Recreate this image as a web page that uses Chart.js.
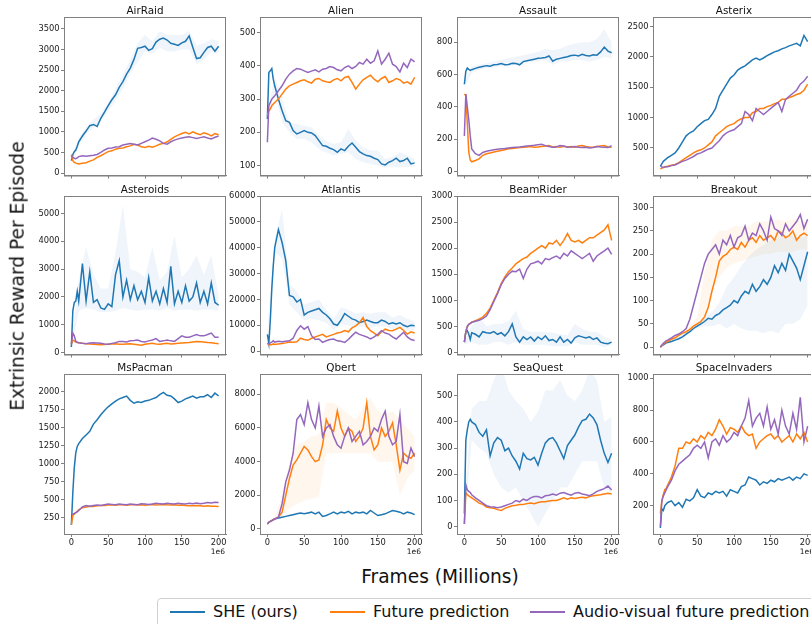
<!DOCTYPE html>
<html>
<head>
<meta charset="utf-8">
<script src="https://cdn.jsdelivr.net/npm/chart.js@4.4.0/dist/chart.umd.min.js"></script>
<style>
  body { margin: 0; width: 811px; height: 624px; overflow: hidden; background: #fff; position: relative; font-family: "DejaVu Sans", sans-serif; }
  canvas { position: absolute; }
  .txt { position: absolute; white-space: nowrap; color: #111; line-height: 1; }
  .ctr { transform: translate(-50%, -50%); }
  #legend { position: absolute; left: 157px; top: 598px; width: 680px; height: 40px; border: 1px solid #d0d0d0; border-radius: 4px; background: #fff; }
  .seg { position: absolute; height: 2px; width: 35px; }
</style>
</head>
<body>
<script>
// x positions (millions of frames)
const FRAMES = [0,2,4,6,8,10,15,20,25,30,35,40,45,50,55,60,65,70,75,80,85,90,95,100,105,110,115,120,125,130,135,140,145,150,155,160,165,170,175,180,185,190,195,200];
const BAND_X = [0,10,20,30,40,50,60,70,80,90,100,110,120,130,140,150,160,170,180,190,200];
const X_TICKS = [0,50,100,150,200];

const GAMES = ['AirRaid','Alien','Assault','Asterix','Asteroids','Atlantis','BeamRider','Breakout','MsPacman','Qbert','SeaQuest','SpaceInvaders'];
const SERIES_NAMES = ['SHE (ours)', 'Future prediction', 'Audio-visual future prediction'];
const COLORS = ['#1f77b4', '#ff7f0e', '#9467bd'];
const BAND_COLORS = ['rgba(31,119,180,0.07)', 'rgba(255,127,14,0.07)', 'rgba(148,103,189,0.07)'];

const Y_TICKS = [
  [0,500,1000,1500,2000,2500,3000,3500],
  [100,200,300,400,500],
  [0,200,400,600,800],
  [500,1000,1500,2000,2500],
  [0,1000,2000,3000,4000,5000],
  [0,10000,20000,30000,40000,50000,60000],
  [0,500,1000,1500,2000,2500,3000],
  [0,50,100,150,200,250,300],
  [250,500,750,1000,1250,1500,1750,2000],
  [0,2000,4000,6000,8000],
  [0,100,200,300,400,500],
  [200,400,600,800,1000]
];
const Y_MIN = [-60, 70, -25, 47, -71, -1300, -38, -16, 24, -297, -28, 22];
const Y_MAX = [3790, 547, 956, 2654, 5627, 60000, 3000, 325, 2246, 9206, 583, 1027];

// series values at FRAMES
const airRaidShe = [300,450,520,560,650,760, 900,1020,1150,1180,1130,1330,1480,1640,1780,1900, 2080,2220,2400,2550,2760,3030,3050,3080,2980,3020, 3180,3250,3280,3230,3150,3130,3100,3160,3200,3330, 3050,2780,2800,2930,3050,3080,2960,3080];
const airRaidFut = [450,300,260,240,230,220, 240,250,290,320,380,420,470,520,540,580, 600,610,640,660,700,680,640,620,650,630, 660,700,720,760,820,880,920,960,990,950, 1000,960,930,980,950,900,960,930];
const airRaidAv = [420,380,360,350,370,400, 420,410,420,430,450,500,560,600,610,630, 640,680,700,720,700,680,720,760,800,850, 820,780,720,700,760,800,830,850,870,880, 860,840,860,880,850,830,870,900];

const alienShe = [240,380,385,392,360,340, 300,265,235,230,205,195,200,205,200,198, 190,175,160,158,152,148,140,150,145,158, 168,155,142,135,130,128,122,118,105,102, 110,115,122,112,115,122,105,108];
const alienFut = [250,265,270,280,285,290, 300,315,330,340,345,350,355,358,352,348, 360,362,355,352,350,358,362,355,365,368, 350,330,345,358,365,372,360,352,362,368, 350,355,362,358,348,352,345,365];
const alienAv = [170,280,290,300,305,310, 325,340,360,375,385,392,390,385,380,384, 388,382,390,392,398,395,388,385,395,400, 392,398,410,405,420,408,415,445,405,420, 438,405,398,382,408,395,420,412];

const assaultShe = [540,620,640,632,626,630, 638,645,650,655,652,660,662,668,660,662, 670,668,660,680,685,690,695,700,702,705, 715,682,695,700,705,710,718,720,715,725, 718,715,722,720,740,770,745,735];
const assaultFut = [480,470,300,120,70,60, 68,78,100,110,115,120,125,130,135,140, 142,145,148,150,152,155,150,152,155,158, 160,152,155,150,156,152,155,150,158,160, 155,152,150,155,158,160,152,150];
const assaultAv = [220,480,400,320,220,140, 110,100,118,125,130,135,138,140,142,145, 148,150,152,155,158,160,162,165,168,160, 155,150,152,160,158,150,152,155,150,148, 150,145,148,155,152,150,148,160];

const asterixShe = [200,240,280,300,320,340, 380,420,500,600,700,750,780,850,900,950, 970,1050,1150,1350,1450,1550,1650,1700,1780,1820, 1850,1900,1950,1980,1950,1980,2020,2050,2080,2100, 2130,2150,2180,2200,2220,2180,2350,2250];
const asterixFut = [150,170,180,190,195,200, 215,230,260,300,340,380,420,450,470,500, 550,600,700,750,800,850,880,900,950,980, 1000,1000,1080,1100,1150,1150,1180,1200,1230,1250, 1300,1300,1330,1350,1380,1400,1450,1550];
const asterixAv = [200,190,180,185,190,190, 210,220,250,280,300,330,360,400,420,450, 480,500,560,620,700,750,780,800,850,900, 1100,1050,950,1150,1100,1050,1100,1150,1200,1250, 1100,1300,1350,1400,1450,1550,1600,1680];

const asteroidsShe = [200,1500,1800,1850,2200,1850, 3200,1850,2900,1800,1900,1600,1550,1750,1650,2800, 3300,2000,2600,1900,2400,1900,2200,1800,2700,1850, 2200,1750,2300,1800,3100,1750,2200,1800,2400,1850, 2000,2500,1800,2200,1750,2500,1800,1700];
const asteroidsFut = [300,450,420,380,360,350, 330,320,310,300,290,280,290,300,310,320, 300,300,310,320,300,280,260,300,320,330, 310,300,320,330,310,320,330,340,350,360, 380,400,390,380,360,350,330,320];
const asteroidsAv = [300,700,600,400,370,350, 330,320,340,350,340,330,310,300,330,350, 400,400,380,420,430,450,400,380,420,450, 500,400,420,450,420,400,500,600,550,550, 600,650,600,600,650,700,550,550];

const atlantisShe = [6500,3000,12000,24000,33000,40000, 47000,42000,35000,21500,21000,19000,20000,14000,15000,15500, 16000,16500,15000,14000,12500,10500,10000,12000,14500,13500, 12500,12000,11000,11500,12000,11500,11000,11000,12000,11500, 10500,11000,10500,11000,10000,9500,10000,9800];
const atlantisFut = [3000,2500,2500,2500,2800,2600, 2800,3000,3200,3500,3400,3600,5000,4500,4200,5000, 5500,6000,6500,5500,6000,6500,7000,7300,8000,7500, 9000,9800,11000,13000,9500,7900,7000,6000,7500,8500, 8000,7900,8500,9200,8000,6600,7500,7000];
const atlantisAv = [3000,2800,3200,3500,4000,3500, 3800,3600,3800,4000,5000,8000,9800,8500,9500,6000, 4500,4700,3400,4000,4500,4700,4000,3800,3400,4500, 6000,7300,6500,6000,5500,4700,5500,6500,7900,7000, 6600,5500,4700,6000,7300,5500,4500,4100];

const beamRiderShe = [200,400,420,350,250,380, 350,300,400,380,370,400,350,380,320,400, 550,300,200,300,250,300,220,300,250,320, 230,250,200,300,200,250,180,280,320,300, 280,300,250,280,200,180,170,200];
const beamRiderFut = [200,400,500,540,560,580, 610,640,680,750,850,1000,1150,1320,1450,1550, 1620,1700,1750,1800,1830,1900,1950,2000,2050,2000, 2100,2080,2150,2050,2150,2280,2150,2120,2150,2100, 2150,2200,2200,2250,2300,2350,2450,2150];
const beamRiderAv = [200,400,500,540,560,580, 600,620,650,700,820,980,1130,1300,1420,1500, 1560,1550,1600,1420,1600,1700,1720,1750,1700,1800, 1780,1820,1850,1800,1900,1850,1950,1900,1850,1800, 1850,1900,1750,1850,1900,1950,2000,1880];

const breakoutShe = [0,3,5,7,9,10, 12,15,18,22,28,33,40,45,50,55, 62,60,68,72,80,85,90,100,95,110, 120,115,135,120,130,145,135,150,175,160, 180,165,200,185,170,145,175,205];
const breakoutFut = [0,3,6,9,11,12, 17,20,25,30,33,38,45,50,55,65, 85,120,150,185,195,200,210,215,210,225, 215,230,235,225,240,230,235,240,230,250, 245,235,240,250,230,240,245,240];
const breakoutAv = [0,4,8,11,14,15, 20,25,28,33,40,60,90,120,150,180, 200,210,220,200,230,220,240,215,235,240, 260,230,245,240,265,250,230,280,255,250, 240,265,250,260,270,285,255,275];

const msPacmanShe = [150,600,950,1150,1240,1280, 1350,1400,1450,1550,1610,1680,1740,1790,1830,1870, 1900,1920,1940,1880,1840,1860,1850,1870,1880,1900, 1920,1960,1990,1950,1940,1900,1850,1870,1900,1920, 1940,1910,1930,1930,1960,1920,1980,1940];
const msPacmanFut = [150,280,300,320,340,360, 390,400,410,405,415,420,420,425,430,425, 430,430,425,430,432,428,430,425,430,432, 428,430,435,430,428,430,425,428,420,418, 415,420,415,410,415,410,408,405];
const msPacmanAv = [300,300,310,320,330,350, 400,420,410,420,425,420,430,440,435,430, 440,435,430,440,435,430,445,440,435,440, 450,445,440,450,445,440,450,445,440,450, 445,455,445,450,460,455,465,460];

const qbertShe = [300,400,450,500,550,600, 650,700,750,800,850,900,950,900,950,1000, 900,1000,750,800,900,1000,900,1000,950,1050, 900,1000,950,1000,900,1100,950,800,850,900, 1000,1100,1050,1000,900,1000,950,850];
const qbertFut = [300,400,450,500,550,600, 700,1000,2000,3000,3800,4100,4500,4900,4700,4300, 4000,4100,5000,6500,6000,5800,7000,6000,5500,6000, 5800,5200,5500,6000,7500,5500,4700,5000,6000,5500, 5800,6300,5000,3500,4500,4300,4200,4500];
const qbertAv = [300,400,450,500,550,600, 700,1500,2800,3500,4500,6500,6800,6200,7500,6500, 6000,7300,5500,6000,6200,5500,5000,4800,5500,6000, 5200,5500,5800,5000,5200,5500,6000,5800,6500,7000, 5500,5000,5200,6800,4000,3900,4800,4300];

const seaQuestShe = [50,330,370,400,410,400, 390,360,345,370,270,320,340,330,290,300, 270,250,220,280,260,255,265,235,280,320, 335,340,320,290,260,310,330,350,380,405, 410,430,415,390,330,280,245,280];
const seaQuestFut = [10,130,122,118,114,110, 100,90,85,75,72,70,65,62,70,75, 80,82,85,85,88,90,88,92,95,95, 98,100,100,105,110,105,110,108,110,112, 110,115,118,120,122,125,128,125];
const seaQuestAv = [10,160,140,135,130,122, 110,100,90,80,76,75,72,75,80,85, 90,100,95,105,100,110,115,115,110,118, 120,125,120,128,130,125,120,128,130,125, 122,118,125,135,140,145,155,140];

const spaceInvadersShe = [60,180,170,200,210,220, 230,200,220,190,240,230,250,300,260,250, 280,270,290,280,290,260,300,290,280,320, 330,380,370,360,330,350,340,360,350,370, 360,370,380,360,380,370,400,390];
const spaceInvadersFut = [150,230,270,300,310,330, 380,450,560,560,600,590,620,600,640,620, 660,640,680,740,700,650,690,680,660,700, 660,640,650,560,600,620,640,650,620,640, 600,620,640,600,650,620,660,600];
const spaceInvadersAv = [70,230,260,280,300,320, 360,420,460,480,500,520,560,580,560,600, 500,600,620,580,640,600,620,660,640,700, 750,860,700,750,780,700,820,680,740,650, 800,700,650,780,680,880,600,700];

// shaded spread (low / high) at BAND_X
const airRaidSheLo = [250,650,950,1100,1250,1500,1750,2050,2400,2700,2950,2900,3050,2950,2950,3000,3000,2650,2750,2950,2900];
const airRaidSheHi = [400,850,1100,1300,1450,1700,2050,2400,2750,3150,3350,3200,3450,3350,3350,3350,3450,3100,3150,3250,3200];
const alienSheLo = [230,320,230,200,180,180,170,150,140,130,135,140,120,110,105,100,95,95,95,95,98];
const alienSheHi = [260,370,300,230,225,220,215,190,175,165,170,210,175,155,145,145,120,125,140,130,120];
const assaultSheLo = [520,610,630,640,645,650,650,660,670,680,680,690,660,680,680,690,690,680,690,710,700];
const assaultSheHi = [560,650,660,670,680,690,700,710,720,730,740,760,750,760,780,790,800,800,820,880,800];
const asteroidsSheLo = [100,1500,1600,1550,1450,1450,1500,1600,1550,1500,1550,1550,1500,1600,1500,1550,1550,1500,1550,1550,1500];
const asteroidsSheHi = [300,2600,3800,2800,2300,2300,3600,5300,3000,2900,2700,3800,2600,2900,4200,2700,3000,3500,2800,3500,2000];
const atlantisSheLo = [5000,38000,36000,18000,15000,12000,12500,12000,11000,8000,10500,10000,9000,9500,9000,9500,9500,8500,8500,8000,8000];
const atlantisSheHi = [8000,43000,55000,26000,23000,18000,19000,20000,16000,12500,17000,16000,14500,15000,14500,15000,15000,13000,14000,12500,11500];
const beamRiderSheLo = [150,200,150,150,200,200,150,200,150,150,150,150,120,120,120,200,150,150,150,100,150];
const beamRiderSheHi = [250,500,700,500,550,550,600,800,450,400,400,400,380,350,330,550,450,400,400,300,250];
const breakoutSheLo = [0,8,12,18,28,40,45,45,50,40,50,40,35,35,30,35,30,50,50,60,90];
const breakoutSheHi = [0,12,18,26,38,50,65,75,95,130,150,175,195,210,220,230,235,240,240,235,240];
const breakoutFutLo = [0,10,18,26,34,45,55,120,150,170,180,185,190,195,200,200,205,205,205,210,210];
const breakoutFutHi = [0,14,22,32,44,65,160,230,250,250,260,260,260,270,270,270,275,270,275,270,270];
const qbertFutLo = [300,500,700,1200,1500,1700,1800,1900,4500,4500,4500,4500,4500,4500,4500,4000,4000,4000,2000,3000,3500];
const qbertFutHi = [300,700,2000,4000,5000,5200,5500,5600,7500,7500,7200,6800,6500,7200,7800,7000,6800,7000,6500,6000,5500];
const seaQuestSheLo = [0,330,300,280,200,150,130,150,100,50,0,50,100,150,150,200,250,250,250,150,130];
const seaQuestSheHi = [100,450,480,480,560,620,520,480,450,400,440,520,520,560,500,480,520,600,560,400,420];

const SHE = [airRaidShe, alienShe, assaultShe, asterixShe, asteroidsShe, atlantisShe, beamRiderShe, breakoutShe, msPacmanShe, qbertShe, seaQuestShe, spaceInvadersShe];
const FUT = [airRaidFut, alienFut, assaultFut, asterixFut, asteroidsFut, atlantisFut, beamRiderFut, breakoutFut, msPacmanFut, qbertFut, seaQuestFut, spaceInvadersFut];
const AV = [airRaidAv, alienAv, assaultAv, asterixAv, asteroidsAv, atlantisAv, beamRiderAv, breakoutAv, msPacmanAv, qbertAv, seaQuestAv, spaceInvadersAv];
// panel index -> [series index, low, high]
const BANDS = {
  0: [[0, airRaidSheLo, airRaidSheHi]],
  1: [[0, alienSheLo, alienSheHi]],
  2: [[0, assaultSheLo, assaultSheHi]],
  4: [[0, asteroidsSheLo, asteroidsSheHi]],
  5: [[0, atlantisSheLo, atlantisSheHi]],
  6: [[0, beamRiderSheLo, beamRiderSheHi]],
  7: [[0, breakoutSheLo, breakoutSheHi], [1, breakoutFutLo, breakoutFutHi]],
  9: [[1, qbertFutLo, qbertFutHi]],
  10: [[0, seaQuestSheLo, seaQuestSheHi]]
};

// layout
const COL_X = [64, 260, 457, 653];
const ROW_Y = [17, 196, 374];
const BOX_W = 162, BOX_H = 160;
const YW = 50, PT = 8, PR = 12;
const SPINE = '#808080';
const TICK_FONT = { family: 'DejaVu Sans', size: 8.3 };

function addText(str, x, y, size, extra) {
  const d = document.createElement('div');
  d.className = 'txt ' + (extra || 'ctr');
  d.textContent = str;
  d.style.left = x + 'px';
  d.style.top = y + 'px';
  d.style.fontSize = size + 'px';
  document.body.appendChild(d);
  return d;
}

const framePlugin = {
  id: 'frame',
  afterDraw(chart) {
    const { ctx, chartArea: a } = chart;
    ctx.save();
    ctx.strokeStyle = SPINE;
    ctx.lineWidth = 1;
    ctx.strokeRect(a.left + 0.5, a.top + 0.5, a.right - a.left - 1, a.bottom - a.top);
    ctx.restore();
  }
};

function toPoints(xs, ys) {
  return ys.map((y, i) => ({ x: xs[i], y: y }));
}

function makePanel(i) {
  const row = Math.floor(i / 4), col = i % 4;
  const bottom = row === 2;
  const xh = bottom ? 20 : 5;

  const cv = document.createElement('canvas');
  cv.width = YW + BOX_W + PR;
  cv.height = PT + BOX_H + xh;
  cv.style.left = (COL_X[col] - YW) + 'px';
  cv.style.top = (ROW_Y[row] - PT) + 'px';
  document.body.appendChild(cv);

  const datasets = [];
  (BANDS[i] || []).forEach(b => {
    datasets.push({ data: toPoints(BAND_X, b[2]), borderColor: 'transparent', borderWidth: 0, pointRadius: 0, fill: '+1', backgroundColor: BAND_COLORS[b[0]], order: 10 });
    datasets.push({ data: toPoints(BAND_X, b[1]), borderColor: 'transparent', borderWidth: 0, pointRadius: 0, fill: false, order: 10 });
  });
  [SHE[i], FUT[i], AV[i]].forEach((ys, s) => {
    datasets.push({ label: SERIES_NAMES[s], data: toPoints(FRAMES, ys), borderColor: COLORS[s], borderWidth: 1.5, pointRadius: 0, tension: 0, fill: false, order: 3 - s });
  });

  new Chart(cv, {
    type: 'line',
    data: { datasets: datasets },
    options: {
      responsive: false,
      animation: false,
      layout: { padding: { left: 0, top: PT, right: PR, bottom: 0 } },
      plugins: { legend: { display: false }, tooltip: { enabled: false }, filler: { drawTime: 'beforeDatasetsDraw' } },
      scales: {
        x: {
          type: 'linear', min: -10, max: 210,
          afterBuildTicks: s => { s.ticks = X_TICKS.map(v => ({ value: v })); },
          afterFit: s => { s.height = xh; },
          grid: { drawOnChartArea: false, tickLength: 3, color: SPINE },
          border: { color: SPINE },
          ticks: { display: bottom, font: TICK_FONT, color: '#222', padding: 1, maxRotation: 0, autoSkip: false, callback: v => String(v) }
        },
        y: {
          type: 'linear', min: Y_MIN[i], max: Y_MAX[i],
          afterBuildTicks: s => { s.ticks = Y_TICKS[i].map(v => ({ value: v })); },
          afterFit: s => { s.width = YW; },
          grid: { drawOnChartArea: false, tickLength: 3, color: SPINE },
          border: { color: SPINE },
          ticks: { font: TICK_FONT, color: '#222', padding: 1.5, autoSkip: false, callback: v => String(v) }
        }
      }
    },
    plugins: [framePlugin]
  });

  addText(GAMES[i], COL_X[col] + BOX_W / 2, ROW_Y[row] - 7.5, 10.4);
  if (bottom) {
    const d = addText('1e6', COL_X[col] + BOX_W - 1, 548, 7.5, '');
    d.style.transform = 'translateX(-100%)';
  }
}

for (let i = 0; i < GAMES.length; i++) makePanel(i);

// axis titles
const yl = addText('Extrinsic Reward Per Episode', 18, 276, 18.6);
yl.style.transform = 'translate(-50%,-50%) rotate(-90deg)';
addText('Frames (Millions)', 440, 577, 18.6);

// legend
const leg = document.createElement('div');
leg.id = 'legend';
document.body.appendChild(leg);
const LEG_SEG_X = [170, 330, 530];
const LEG_TXT_X = [213, 373, 573];
SERIES_NAMES.forEach((name, s) => {
  const seg = document.createElement('div');
  seg.className = 'seg';
  seg.style.background = COLORS[s];
  seg.style.left = LEG_SEG_X[s] + 'px';
  seg.style.top = '611px';
  document.body.appendChild(seg);
  const t = addText(name, LEG_TXT_X[s], 612, 16, '');
  t.style.transform = 'translateY(-50%)';
});
</script>
</body>
</html>
